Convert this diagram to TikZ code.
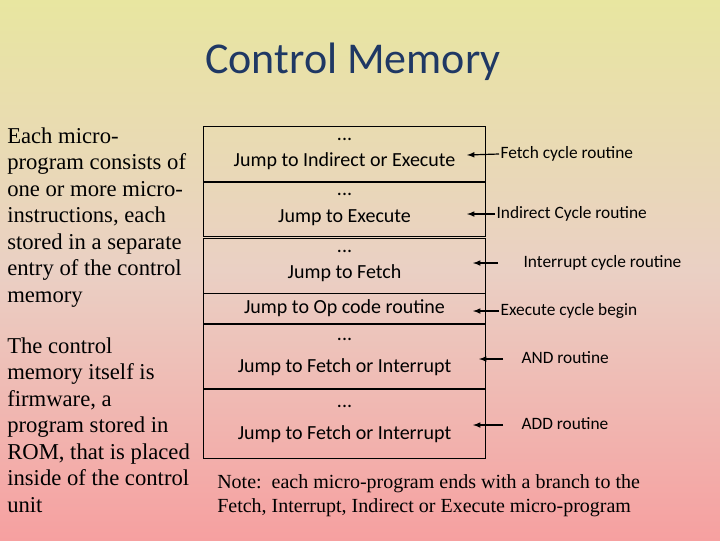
\documentclass[tikz,border=0pt]{standalone}
\usepackage{fontspec}
\setmainfont{Liberation Serif}
\newfontfamily\calfont{Carlito}
\definecolor{topc}{RGB}{232,230,160}
\definecolor{midc}{RGB}{234,208,196}
\definecolor{botc}{RGB}{246,160,160}
\definecolor{titlec}{RGB}{31,56,100}
\begin{document}
\begin{tikzpicture}[x=0.75pt,y=-0.75pt,
  mem/.style={draw=black,line width=0.8pt,minimum width=282*0.75pt,inner sep=0pt,anchor=north west,align=center,font=\calfont\fontsize{15}{20}\selectfont},
  lab/.style={font=\calfont\fontsize{13}{15}\selectfont,anchor=west,inner sep=1pt},
  arr/.style={-latex,line width=0.9pt},
  side/.style={anchor=north west,align=left,inner sep=0pt,font=\fontsize{17}{19.9}\selectfont}]
\useasboundingbox (0,0) rectangle (720,540);
\shade[top color=topc,bottom color=botc,middle color=midc] (0,0) rectangle (720,540);
\node[font=\calfont\fontsize{33}{38}\selectfont,text=titlec] (title) at (353,62) {Control Memory};
\node[side] (p1) at (7,127) {Each micro-\\program consists of\\one or more micro-\\instructions, each\\stored in a separate\\entry of the control\\memory};
\node[side] (p2) at (7,337) {The control\\memory itself is\\firmware, a\\program stored in\\ROM, that is placed\\inside of the control\\unit};
\node[mem,minimum height=55*0.75pt] (m1) at (203,126) {...\\Jump to Indirect or Execute};
\node[mem,minimum height=54*0.75pt] (m2) at (203,182) {...\\Jump to Execute};
\node[mem,minimum height=55*0.75pt] (m3) at (203,238) {...\\Jump to Fetch};
\node[mem,minimum height=30*0.75pt] (m4) at (203,293) {Jump to Op code routine};
\node[mem,minimum height=64*0.75pt,font=\calfont\fontsize{15}{24}\selectfont] (m5) at (203,324) {...\\Jump to Fetch or Interrupt};
\node[mem,minimum height=69*0.75pt,font=\calfont\fontsize{15}{24}\selectfont] (m6) at (203,389) {...\\Jump to Fetch or Interrupt};
\node[lab] (l1) at (499,154) {Fetch cycle routine};
\node[lab] (l2) at (495,214) {Indirect Cycle routine};
\node[lab] (l3) at (522,263) {Interrupt cycle routine};
\node[lab] (l4) at (499,311) {Execute cycle begin};
\node[lab] (l5) at (520,358) {AND routine};
\node[lab] (l6) at (520,424) {ADD routine};
\coordinate (t3) at (498,263); \coordinate (t5) at (503,359); \coordinate (t6) at (503,425);
\coordinate (h1) at (467,155); \coordinate (h2) at (467,214); \coordinate (h3) at (473,263);
\coordinate (h4) at (473,311); \coordinate (h5) at (479,359); \coordinate (h6) at (473,425);
\draw[arr] (l1.west) -- (h1);
\draw[arr] (l2.west) -- (h2);
\draw[arr] (t3) -- (h3);
\draw[arr] (l4.west) -- (h4);
\draw[arr] (t5) -- (h5);
\draw[arr] (t6) -- (h6);
\node[anchor=north west,align=left,inner sep=0pt,font=\fontsize{15}{18}\selectfont] (note) at (217,474) {Note:\ \ each micro-program ends with a branch to the\\Fetch, Interrupt, Indirect or Execute micro-program};
\end{tikzpicture}
\end{document}
